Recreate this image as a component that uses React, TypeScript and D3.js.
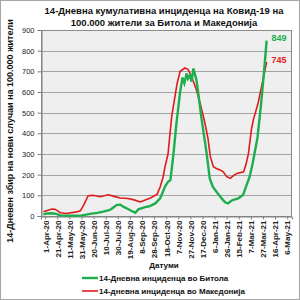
import React, { useEffect, useRef } from 'react';
import * as d3 from 'd3';

// Bitola, 14-day incidence per 100.000
const bitolaDates = [
  '2020-03-29', '2020-04-04', '2020-04-12', '2020-04-19', '2020-04-26', '2020-05-09',
  '2020-05-23', '2020-06-01', '2020-06-14', '2020-06-26', '2020-07-06', '2020-07-17',
  '2020-07-22', '2020-07-28', '2020-08-03', '2020-08-08', '2020-08-15', '2020-08-22',
  '2020-08-28', '2020-09-02', '2020-09-08', '2020-09-16', '2020-09-21', '2020-09-30',
  '2020-10-08', '2020-10-13', '2020-10-16', '2020-10-21', '2020-10-25', '2020-10-30',
  '2020-11-04', '2020-11-10', '2020-11-14', '2020-11-17', '2020-11-21', '2020-11-23',
  '2020-11-26', '2020-11-29', '2020-12-02', '2020-12-07', '2020-12-10', '2020-12-15',
  '2020-12-19', '2020-12-24', '2020-12-29', '2021-01-03', '2021-01-11', '2021-01-20',
  '2021-01-24', '2021-01-28', '2021-02-01', '2021-02-05', '2021-02-14', '2021-02-22',
  '2021-02-27', '2021-03-05', '2021-03-10', '2021-03-18', '2021-03-24', '2021-03-29',
  '2021-04-02',
];
const bitolaValues = [
  8, 12, 13, 10, 3, 2,
  1, 3, 10, 15, 21, 29,
  40, 53, 55, 45, 35, 24,
  16, 32, 38, 45, 48, 61,
  85, 120, 142, 165, 174, 300,
  450, 600, 670, 643, 690, 665,
  680, 650, 714, 658, 594, 480,
  400, 300, 182, 142, 110, 77,
  65, 61, 70, 77, 85, 102,
  142, 190, 255, 380, 545, 706,
  849,
];

// North Macedonia, 14-day incidence per 100.000
const macedoniaDates = [
  '2020-03-29', '2020-04-12', '2020-04-17', '2020-04-26', '2020-05-06', '2020-05-23',
  '2020-05-29', '2020-06-04', '2020-06-11', '2020-06-19', '2020-07-01', '2020-07-14',
  '2020-07-24', '2020-08-03', '2020-08-16', '2020-08-26', '2020-09-05', '2020-09-22',
  '2020-10-03', '2020-10-08', '2020-10-13', '2020-10-16', '2020-10-21', '2020-10-27',
  '2020-11-05', '2020-11-10', '2020-11-18', '2020-11-23', '2020-11-29', '2020-12-01',
  '2020-12-07', '2020-12-13', '2020-12-21', '2020-12-26', '2020-12-30', '2021-01-04',
  '2021-01-09', '2021-01-15', '2021-01-20', '2021-01-26', '2021-02-01', '2021-02-06',
  '2021-02-12', '2021-02-23', '2021-02-27', '2021-03-03', '2021-03-08', '2021-03-11',
  '2021-03-19', '2021-03-27', '2021-04-02',
];
const macedoniaValues = [
  20, 34, 33, 16, 12, 20,
  25, 55, 98, 100, 93, 103,
  95, 87, 85, 78, 68, 87,
  106, 140, 190, 238, 300, 480,
  640, 700, 716, 710, 674, 658,
  610, 547, 450, 377, 287, 238,
  230, 223, 215, 190, 182, 195,
  206, 214, 250, 303, 420, 464,
  547, 658, 745,
];

const yTicks = [0, 100, 200, 300, 400, 500, 600, 700, 800, 900];
const xTickDates = [
  '2020-04-01', '2020-04-21', '2020-05-11', '2020-05-31', '2020-06-20', '2020-07-10',
  '2020-07-30', '2020-08-19', '2020-09-08', '2020-09-28', '2020-10-18', '2020-11-07',
  '2020-11-27', '2020-12-17', '2021-01-06', '2021-01-26', '2021-02-15', '2021-03-07',
  '2021-03-27', '2021-04-16', '2021-05-06',
];
const titleLines = [
  '14-Дневна кумулативна  инциденца на Ковид-19 на',
  '100.000 жители за Битола и Македонија',
];
const yTitle = '14-Дневен збир на нови случаи на 100.000  жители';
const xTitle = 'Датуми';
const legendLabels = ['14-Дневна инциденца во Битола', '14-дневна инциденца во Македонија'];

const GREEN = '#1fae4e';
const RED = '#e01b1b';
const FONT = '"Liberation Sans", Arial, sans-serif';

function App() {
  const ref = useRef<SVGSVGElement>(null);

  useEffect(() => {
    const svg = d3.select(ref.current);
    svg.selectAll('*').remove();

    const width = 300;
    const height = 300;
    const plot = { left: 41, right: 292, top: 30, bottom: 216 };
    const parse = d3.timeParse('%Y-%m-%d');
    const fmt = d3.timeFormat('%-d-%b-%y');

    // outer frame
    svg
      .append('rect')
      .attr('x', 0.5)
      .attr('y', 0.5)
      .attr('width', width - 1)
      .attr('height', height - 1)
      .attr('fill', 'white')
      .attr('stroke', '#a6a6a6');

    const x = d3
      .scaleTime()
      .domain([new Date(2020, 2, 25), new Date(2021, 4, 14)])
      .range([plot.left, plot.right]);

    const y = d3.scaleLinear().domain([0, 900]).range([plot.bottom, plot.top]);

    // plot area
    svg
      .append('rect')
      .attr('x', plot.left)
      .attr('y', plot.top)
      .attr('width', plot.right - plot.left)
      .attr('height', plot.bottom - plot.top)
      .attr('fill', '#efefef');

    // gridlines
    svg
      .append('g')
      .selectAll('line')
      .data(yTicks)
      .join('line')
      .attr('x1', plot.left)
      .attr('x2', plot.right)
      .attr('y1', (d) => Math.round(y(d)) + 0.5)
      .attr('y2', (d) => Math.round(y(d)) + 0.5)
      .attr('stroke', '#a3a3a3')
      .attr('stroke-width', 1);

    svg
      .append('rect')
      .attr('x', plot.left + 0.5)
      .attr('y', plot.top + 0.5)
      .attr('width', plot.right - plot.left - 1)
      .attr('height', plot.bottom - plot.top)
      .attr('fill', 'none')
      .attr('stroke', '#8c8c8c');

    // y axis
    const yAxis = svg
      .append('g')
      .attr('transform', `translate(${plot.left + 0.5},0)`)
      .call(d3.axisLeft(y).tickValues(yTicks).tickSize(4).tickPadding(3));
    yAxis.select('.domain').attr('stroke', '#808080');
    yAxis.selectAll('.tick line').attr('stroke', '#808080');
    yAxis
      .selectAll('.tick text')
      .attr('font-family', FONT)
      .attr('font-size', 7.5)
      .attr('fill', '#222');

    // x axis
    const xAxis = svg
      .append('g')
      .attr('transform', `translate(0,${plot.bottom + 0.5})`)
      .call(
        d3
          .axisBottom(x)
          .tickValues(xTickDates.map((d) => parse(d) as Date))
          .tickFormat((d) => fmt(d as Date))
          .tickSize(3)
      );
    xAxis.select('.domain').attr('stroke', '#808080');
    xAxis.selectAll('.tick line').attr('stroke', '#808080');
    xAxis
      .selectAll('.tick text')
      .attr('font-family', FONT)
      .attr('font-size', 8)
      .attr('font-weight', 'bold')
      .attr('fill', '#222')
      .attr('text-anchor', 'end')
      .attr('transform', 'rotate(-90)')
      .attr('x', -4)
      .attr('y', 0)
      .attr('dy', '0.35em');

    // lines
    const line = d3
      .line<[Date, number]>()
      .x((d) => x(d[0]))
      .y((d) => y(d[1]));

    const bitola: [Date, number][] = bitolaDates.map((d, i) => [parse(d) as Date, bitolaValues[i]]);
    const macedonia: [Date, number][] = macedoniaDates.map((d, i) => [
      parse(d) as Date,
      macedoniaValues[i],
    ]);

    svg
      .append('path')
      .datum(macedonia)
      .attr('fill', 'none')
      .attr('stroke', RED)
      .attr('stroke-width', 1.6)
      .attr('d', line);

    svg
      .append('path')
      .datum(bitola)
      .attr('fill', 'none')
      .attr('stroke', GREEN)
      .attr('stroke-width', 2.4)
      .attr('d', line);

    // end labels
    const lastB = bitola[bitola.length - 1];
    const lastM = macedonia[macedonia.length - 1];
    svg
      .append('text')
      .attr('x', x(lastB[0]) + 5)
      .attr('y', y(lastB[1]))
      .attr('font-family', FONT)
      .attr('font-size', 9)
      .attr('font-weight', 'bold')
      .attr('fill', GREEN)
      .text(lastB[1]);
    svg
      .append('text')
      .attr('x', x(lastM[0]) + 5)
      .attr('y', y(lastM[1]) + 1)
      .attr('font-family', FONT)
      .attr('font-size', 9)
      .attr('font-weight', 'bold')
      .attr('fill', RED)
      .text(lastM[1]);

    // title
    svg
      .append('text')
      .attr('font-family', FONT)
      .attr('font-size', 9.5)
      .attr('font-weight', 'bold')
      .attr('fill', '#111')
      .attr('text-anchor', 'middle')
      .selectAll('tspan')
      .data(titleLines)
      .join('tspan')
      .attr('x', 164)
      .attr('y', (d, i) => 14 + i * 12)
      .text((d) => d);

    // axis titles
    svg
      .append('text')
      .attr('transform', `translate(13,131) rotate(-90)`)
      .attr('text-anchor', 'middle')
      .attr('font-family', FONT)
      .attr('font-size', 9)
      .attr('font-weight', 'bold')
      .attr('fill', '#111')
      .text(yTitle);

    svg
      .append('text')
      .attr('x', 164)
      .attr('y', 268)
      .attr('text-anchor', 'middle')
      .attr('font-family', FONT)
      .attr('font-size', 8)
      .attr('font-weight', 'bold')
      .attr('fill', '#111')
      .text(xTitle);

    // legend
    const legend = svg.append('g');
    [GREEN, RED].forEach((c, i) => {
      const ly = 278 + i * 13;
      legend
        .append('line')
        .attr('x1', 82)
        .attr('x2', 98)
        .attr('y1', ly)
        .attr('y2', ly)
        .attr('stroke', c)
        .attr('stroke-width', i === 0 ? 2.4 : 1.6);
      legend
        .append('text')
        .attr('x', 99)
        .attr('y', ly + 3)
        .attr('font-family', FONT)
        .attr('font-size', 8)
        .attr('font-weight', 'bold')
        .attr('fill', '#111')
        .text(legendLabels[i]);
    });
  }, []);

  return (
    <svg
      ref={ref}
      width={300}
      height={300}
      style={{ position: 'absolute', left: 0, top: 0, background: 'white' }}
    />
  );
}

export default App;
